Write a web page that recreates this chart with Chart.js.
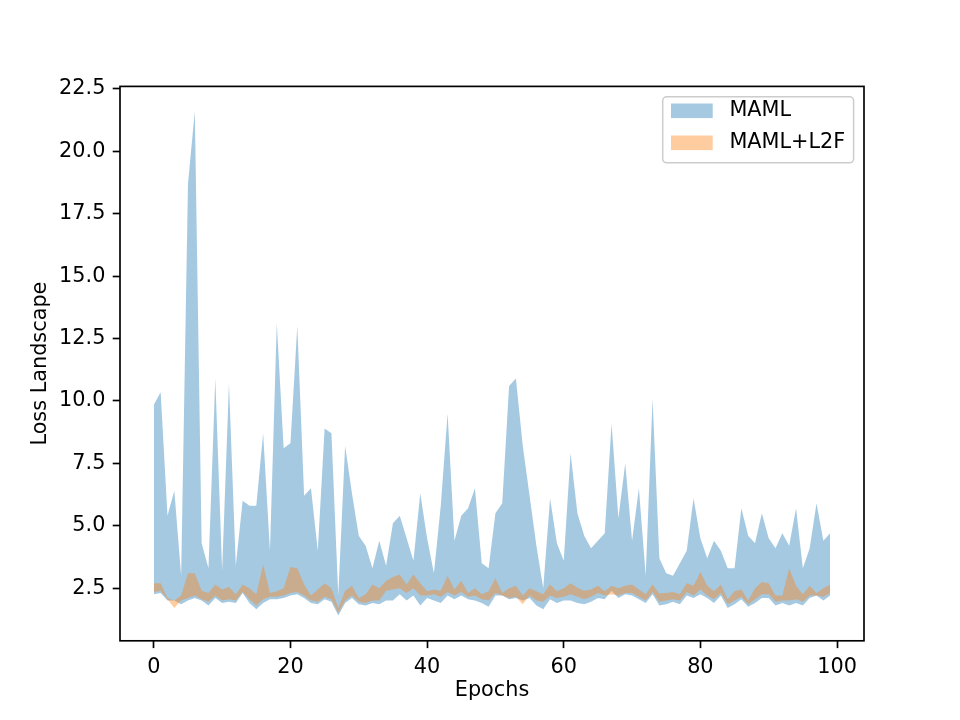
<!DOCTYPE html>
<html>
<head>
<meta charset="utf-8">
<script src="https://cdn.jsdelivr.net/npm/chart.js@4.4.0/dist/chart.umd.min.js"></script>
<style>
    html, body { margin: 0; padding: 0; background: #ffffff; }
    #wrap { width: 960px; height: 720px; }
</style>
</head>
<body>
<div id="wrap"><canvas id="lossChart" width="960" height="720"></canvas></div>
<script>
const epochs = Array.from({ length: 100 }, (_, i) => i);

const mamlHigh = [
    9.85, 10.35, 5.4, 6.4, 3.0, 18.7, 21.6, 4.3, 3.3, 10.9,
    3.2, 10.7, 3.4, 6.0, 5.8, 5.8, 8.7, 4.0, 13.1, 8.1,
    8.3, 13.0, 6.2, 6.5, 4.0, 8.9, 8.7, 2.2, 8.2, 6.3,
    4.6, 4.2, 3.3, 4.4, 3.4, 5.1, 5.4, 4.5, 3.6, 6.3,
    4.5, 3.1, 5.8, 9.5, 4.4, 5.4, 5.7, 6.5, 3.5, 3.3,
    5.5, 5.9, 10.6, 10.9, 8.2, 6.2, 4.2, 2.5, 6.1, 4.3,
    3.6, 7.9, 5.5, 4.6, 4.1, 4.4, 4.7, 9.1, 5.3, 7.5,
    4.4, 6.5, 3.0, 10.1, 3.7, 3.1, 3.0, 3.5, 4.0, 6.1,
    4.5, 3.7, 4.4, 4.0, 3.3, 3.3, 5.7, 4.6, 4.3, 5.5,
    4.5, 4.1, 4.7, 4.2, 5.7, 3.3, 4.1, 5.9, 4.4, 4.7
];
const mamlLow = [
    2.25, 2.3, 2.0, 2.0, 1.85, 2.0, 2.1, 2.0, 1.8, 2.1,
    1.9, 1.95, 1.9, 2.3, 1.9, 1.65, 1.9, 2.05, 2.05, 2.1,
    2.2, 2.25, 2.1, 1.9, 1.85, 2.05, 1.95, 1.4, 1.9, 2.1,
    1.85, 1.8, 1.9, 1.85, 2.0, 2.0, 2.25, 2.0, 2.2, 1.8,
    2.1, 2.0, 1.9, 2.2, 2.05, 2.2, 2.05, 2.0, 1.9, 1.75,
    2.2, 2.2, 2.05, 2.1, 2.0, 2.1, 1.8, 1.65, 2.05, 1.9,
    2.0, 2.0, 1.9, 1.85, 1.95, 2.1, 2.05, 2.4, 2.1, 2.25,
    2.2, 2.05, 1.9, 2.25, 1.8, 1.85, 1.95, 1.85, 2.2, 2.1,
    2.25, 2.1, 1.9, 2.2, 1.7, 1.85, 2.05, 1.75, 1.9, 2.1,
    2.1, 1.8, 1.9, 1.8, 1.9, 1.8, 2.1, 2.2, 2.0, 2.2
];
const l2fHigh = [
    2.7, 2.7, 2.1, 2.0, 2.2, 3.1, 3.1, 2.4, 2.3, 2.65,
    2.45, 2.55, 2.25, 2.65, 2.5, 2.25, 3.45, 2.3, 2.38, 2.5,
    3.35, 3.3, 2.65, 2.2, 2.45, 2.7, 2.5, 1.7, 2.4, 2.6,
    2.1, 2.25, 2.65, 2.5, 2.8, 2.95, 3.05, 2.65, 3.05, 2.7,
    2.38, 2.45, 2.4, 3.0, 2.45, 2.8, 2.3, 2.5, 2.25, 2.38,
    2.9, 2.3, 2.5, 2.6, 2.2, 2.5, 2.38, 2.25, 2.65, 2.38,
    2.5, 2.7, 2.52, 2.4, 2.45, 2.6, 2.38, 2.6, 2.5, 2.6,
    2.65, 2.45, 2.25, 2.65, 2.28, 2.3, 2.35, 2.25, 2.7, 2.6,
    3.15, 2.6, 2.38, 2.65, 2.05, 2.38, 2.45, 2.0, 2.5, 2.75,
    2.7, 2.2, 2.2, 3.3, 2.6, 2.25, 2.6, 2.3, 2.5, 2.65
];
const l2fLow = [
    2.35, 2.4, 2.05, 1.7, 2.0, 2.1, 2.2, 2.05, 1.95, 2.2,
    2.0, 2.05, 2.0, 2.35, 2.05, 1.8, 2.05, 2.15, 2.15, 2.2,
    2.3, 2.35, 2.2, 2.0, 1.95, 2.15, 2.05, 1.5, 2.0, 2.2,
    1.95, 1.9, 2.0, 2.0, 2.4, 2.45, 2.5, 2.3, 2.5, 2.2,
    2.2, 2.25, 2.15, 2.35, 2.2, 2.35, 2.15, 2.2, 2.05, 2.0,
    2.3, 2.2, 2.1, 2.15, 1.85, 2.2, 2.0, 1.95, 2.2, 2.1,
    2.15, 2.25, 2.15, 2.05, 2.15, 2.3, 2.2, 2.25, 2.2, 2.3,
    2.3, 2.15, 2.0, 2.35, 1.95, 2.0, 2.05, 2.0, 2.35, 2.2,
    2.45, 2.2, 2.05, 2.3, 1.85, 2.0, 2.15, 1.85, 2.05, 2.25,
    2.25, 1.95, 2.0, 2.0, 2.05, 1.95, 2.2, 2.2, 2.15, 2.3
];

const yTicks = [2.5, 5.0, 7.5, 10.0, 12.5, 15.0, 17.5, 20.0, 22.5];
const xTicks = [0, 20, 40, 60, 80, 100];
const seriesNames = ["MAML", "MAML+L2F"];

const blueFill = "rgba(31, 119, 180, 0.4)";
const orangeFill = "rgba(255, 127, 14, 0.4)";
const fontSize = 20.8;

function puntos(valores) {
    return epochs.map((e, i) => ({ x: e, y: valores[i] }));
}

// spines over the fills, like matplotlib
const marco = {
    id: "marco",
    afterDatasetsDraw(chart) {
        const a = chart.chartArea;
        const ctx = chart.ctx;
        ctx.save();
        ctx.strokeStyle = "#000000";
        ctx.lineWidth = 1.67;
        ctx.strokeRect(a.left, a.top, a.right - a.left, a.bottom - a.top);
        ctx.restore();
    }
};

// legend box inside the axes, upper right
const leyenda = {
    id: "leyenda",
    afterDraw(chart) {
        const a = chart.chartArea;
        const ctx = chart.ctx;
        const items = chart.data.datasets.filter(d => d.label);
        ctx.save();
        ctx.font = fontSize + "px 'DejaVu Sans'";
        const textW = Math.max(...items.map(d => ctx.measureText(d.label).width));
        const pad = 8.3, handleW = 41.7, handleH = 14.6, gap = 16.7;
        const w = pad * 2 + handleW + gap + textW;
        const h = 66;
        const right = a.right - 10.4;
        const top = a.top + 10.4;
        const left = right - w;

        ctx.beginPath();
        ctx.roundRect(left, top, w, h, 4);
        ctx.fillStyle = "rgba(255,255,255,0.8)";
        ctx.fill();
        ctx.strokeStyle = "#cccccc";
        ctx.lineWidth = 1.5;
        ctx.stroke();

        items.forEach((d, i) => {
            const cy = top + 14 + i * 32;
            ctx.fillStyle = d.backgroundColor;
            ctx.fillRect(left + pad, cy - handleH / 2, handleW, handleH);
            ctx.fillStyle = "#000000";
            ctx.textAlign = "left";
            ctx.textBaseline = "middle";
            ctx.fillText(d.label, left + pad + handleW + gap, cy);
        });
        ctx.restore();
    }
};

Chart.defaults.font.family = "'DejaVu Sans', sans-serif";
Chart.defaults.font.size = fontSize;
Chart.defaults.color = "#000000";

const lossCanvas = document.getElementById("lossChart");
new Chart(lossCanvas, {
    type: "line",
    data: {
        datasets: [
            {
                label: "",
                data: puntos(mamlLow),
                borderColor: "transparent",
                borderWidth: 0,
                backgroundColor: blueFill,
                pointRadius: 0,
                fill: false,
                order: 2
            },
            {
                label: seriesNames[0],
                data: puntos(mamlHigh),
                borderColor: "transparent",
                borderWidth: 0,
                backgroundColor: blueFill,
                pointRadius: 0,
                fill: "-1",
                order: 2
            },
            {
                label: "",
                data: puntos(l2fLow),
                borderColor: "transparent",
                borderWidth: 0,
                backgroundColor: orangeFill,
                pointRadius: 0,
                fill: false,
                order: 1
            },
            {
                label: seriesNames[1],
                data: puntos(l2fHigh),
                borderColor: "transparent",
                borderWidth: 0,
                backgroundColor: orangeFill,
                pointRadius: 0,
                fill: "-1",
                order: 1
            }
        ]
    },
    options: {
        responsive: false,
        maintainAspectRatio: false,
        animation: false,
        devicePixelRatio: 1,
        layout: {
            padding: { top: 86.4, right: 96, bottom: 0, left: 0 }
        },
        plugins: {
            legend: { display: false },
            tooltip: { enabled: false }
        },
        scales: {
            x: {
                type: "linear",
                min: -4.95,
                max: 103.95,
                afterFit: (scale) => { scale.height = 79.2; },
                afterBuildTicks: (scale) => { scale.ticks = xTicks.map(v => ({ value: v })); },
                border: { display: false },
                grid: {
                    drawOnChartArea: false,
                    drawTicks: true,
                    tickLength: 7.3,
                    tickWidth: 1.67,
                    tickColor: "#000000"
                },
                ticks: {
                    padding: 7.3,
                    maxRotation: 0,
                    callback: (v) => String(v)
                },
                title: {
                    display: true,
                    text: "Epochs",
                    padding: { top: 0, bottom: 16.5 }
                }
            },
            y: {
                type: "linear",
                min: 0.39,
                max: 22.6,
                afterFit: (scale) => { scale.width = 120; },
                afterBuildTicks: (scale) => { scale.ticks = yTicks.map(v => ({ value: v })); },
                border: { display: false },
                grid: {
                    drawOnChartArea: false,
                    drawTicks: true,
                    tickLength: 7.3,
                    tickWidth: 1.67,
                    tickColor: "#000000"
                },
                ticks: {
                    padding: 7.3,
                    callback: (v) => Number(v).toFixed(1)
                },
                title: {
                    display: true,
                    text: "Loss Landscape",
                    padding: { top: 28.5, bottom: 0 }
                }
            }
        }
    },
    plugins: [marco, leyenda]
});
</script>
</body>
</html>
